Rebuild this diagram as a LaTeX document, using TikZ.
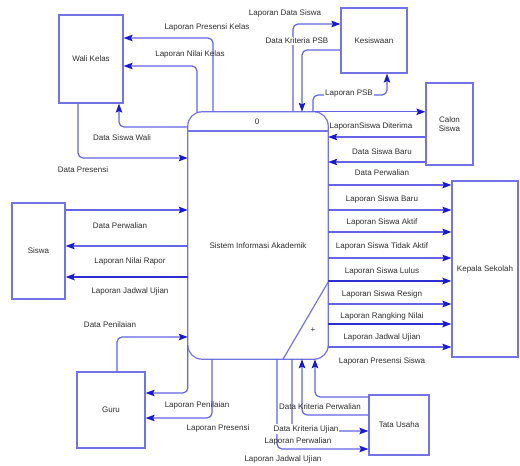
\documentclass[tikz,border=0pt]{standalone}
\usepackage{fontspec}
\setmainfont{Liberation Sans}
\usetikzlibrary{arrows.meta,calc}
\definecolor{linec}{RGB}{100,100,228}
\definecolor{arrc}{RGB}{25,25,205}
\definecolor{heavyc}{RGB}{45,45,210}
\definecolor{boxc}{RGB}{115,115,228}
\definecolor{txtc}{RGB}{45,45,45}
\begin{document}
\begin{tikzpicture}[x=1pt,y=-1pt,
  ent/.style={draw=boxc, line width=1.2pt, font=\fontsize{8}{9.5}\selectfont, text=txtc, inner sep=0pt, align=center},
  flow/.style={draw=linec, line width=1.2pt, rounded corners=5pt, -{Stealth[length=9pt,width=6.5pt,inset=1.5pt,color=arrc]}},
  heavyflow/.style={flow, draw=heavyc, line width=1.8pt},
  lbl/.style={font=\fontsize{8}{9}\selectfont, text=txtc, inner sep=1pt},
  wlbl/.style={lbl, fill=white},
]
\useasboundingbox (0,0) rectangle (520,466);

% entities
\node[ent, minimum width=64pt, minimum height=88pt] (wali) at (91,59) {Wali Kelas};
\node[ent, minimum width=66pt, minimum height=65pt] (kes) at (374,40.5) {Kesiswaan};
\node[ent, minimum width=47pt, minimum height=82pt] (calon) at (449.5,124) {Calon\\Siswa};
\node[ent, minimum width=66pt, minimum height=176pt] (kep) at (485,269) {Kepala Sekolah};
\node[ent, minimum width=53pt, minimum height=96pt] (siswa) at (38.5,251) {Siswa};
\node[ent, minimum width=68pt, minimum height=76pt] (guru) at (111,410) {Guru};
\node[ent, minimum width=60pt, minimum height=60pt] (tata) at (399,425) {Tata Usaha};

% process
\node[minimum width=140pt, minimum height=247pt, inner sep=0pt] (proc) at (258,235.5) {};
\draw[draw=boxc, line width=1.2pt, rounded corners=14pt] (proc.north west) rectangle (proc.south east);
\draw[draw=boxc, line width=1.2pt] (proc.west |- 0,131) -- (proc.east |- 0,131);
\draw[draw=boxc, line width=1.2pt] (proc.east |- 0,282) -- (proc.south -| 283,0);
\node[lbl] (pnum) at (257,122) {0};
\node[lbl] (ptxt) at (258,246) {Sistem Informasi Akademik};
\node[lbl] (plus) at (313,330) {+};

% Wali Kelas
\draw[flow] (proc.north -| 213,0) |- (wali.east |- 0,38);
\draw[flow] (proc.north -| 197,0) |- (wali.east |- 0,66);
\draw[flow] (proc.west |- 0,127) -| (wali.south -| 119,0);
\draw[flow] (wali.south -| 78,0) |- (proc.west |- 0,158);
\node[lbl] (l1) at (207,27) {Laporan Presensi Kelas};
\node[lbl] (l2) at (190,54) {Laporan Nilai Kelas};
\node[lbl] (l3) at (122,138) {Data Siswa Wali};
\node[lbl] (l4) at (83,170) {Data Presensi};

% Siswa
\draw[flow] (siswa.east |- 0,210) -- (proc.west |- 0,210);
\draw[flow] (proc.west |- 0,246) -- (siswa.east |- 0,246);
\draw[heavyflow] (proc.west |- 0,277) -- (siswa.east |- 0,277);
\node[lbl] (l5) at (120,226) {Data Perwalian};
\node[lbl] (l6) at (130,261) {Laporan Nilai Rapor};
\node[lbl] (l7) at (130,291) {Laporan Jadwal Ujian};

% Guru
\draw[flow] (guru.north -| 117,0) |- (proc.west |- 0,337);
\draw[flow] (proc.west |- 0,345) |- (guru.east |- 0,393);
\draw[flow] (proc.south -| 212,0) |- (guru.east |- 0,418);
\node[lbl] (l8) at (110,325) {Data Penilaian};
\node[lbl] (l9) at (197,405) {Laporan Penilaian};
\node[lbl] (l10) at (218,428) {Laporan Presensi};

% Tata Usaha
\draw[flow] (proc.south -| 277,0) |- (tata.west |- 0,449);
\draw[flow] (proc.south -| 292,0) |- (tata.west |- 0,431);
\draw[flow] (tata.west |- 0,415) -| (proc.south -| 302,0);
\draw[flow] (tata.west |- 0,397) -| (proc.south -| 315,0);
\node[lbl] (l11) at (320,407) {Data Kriteria Perwalian};
\node[wlbl] (l12) at (306,429) {Data Kriteria Ujian};
\node[lbl] (l13) at (298,441) {Laporan Perwalian};
\node[lbl] (l14) at (283,459) {Laporan Jadwal Ujian};

% Kesiswaan
\coordinate (psbbend) at (387,95);
\draw[flow] (proc.north -| 293,0) |- (kes.west |- 0,24);
\draw[flow] (kes.west |- 0,50) -| (proc.north -| 302,0);
\draw[flow] (proc.north -| 313,0) |- (psbbend) -- (kes.south -| psbbend);
\node[lbl] (l15) at (285,13) {Laporan Data Siswa};
\node[wlbl] (l16) at (297,41) {Data Kriteria PSB};
\node[wlbl] (l17) at (349,94) {Laporan PSB};

% Calon Siswa
\draw[flow] (proc.north -| 312,0) -- (calon.west |- proc.north);
\draw[flow] (calon.west |- 0,137) -- (proc.east |- 0,137);
\draw[flow] (calon.west |- 0,162) -- (proc.east |- 0,162);
\node[lbl] (l18) at (371,126) {LaporanSiswa Diterima};
\node[lbl] (l19) at (382,152) {Data Siswa Baru};

% Kepala Sekolah
\foreach \yy in {185,210,232,258,304,347}
  \draw[flow] (proc.east |- 0,\yy) -- (kep.west |- 0,\yy);
\foreach \yy in {281,324}
  \draw[heavyflow] (proc.east |- 0,\yy) -- (kep.west |- 0,\yy);
\node[lbl] (k1) at (382,173) {Data Perwalian};
\node[lbl] (k2) at (382,199) {Laporan Siswa Baru};
\node[lbl] (k3) at (382,222) {Laporan Siswa Aktif};
\node[lbl] (k4) at (382,246) {Laporan Siswa Tidak Aktif};
\node[lbl] (k5) at (382,271) {Laporan Siswa Lulus};
\node[lbl] (k6) at (382,294) {Laporan Siswa Resign};
\node[lbl] (k7) at (382,316) {Laporan Rangking Nilai};
\node[lbl] (k8) at (382,337) {Laporan Jadwal Ujian};
\node[lbl] (k9) at (382,361) {Laporan Presensi Siswa};
\end{tikzpicture}
\end{document}
